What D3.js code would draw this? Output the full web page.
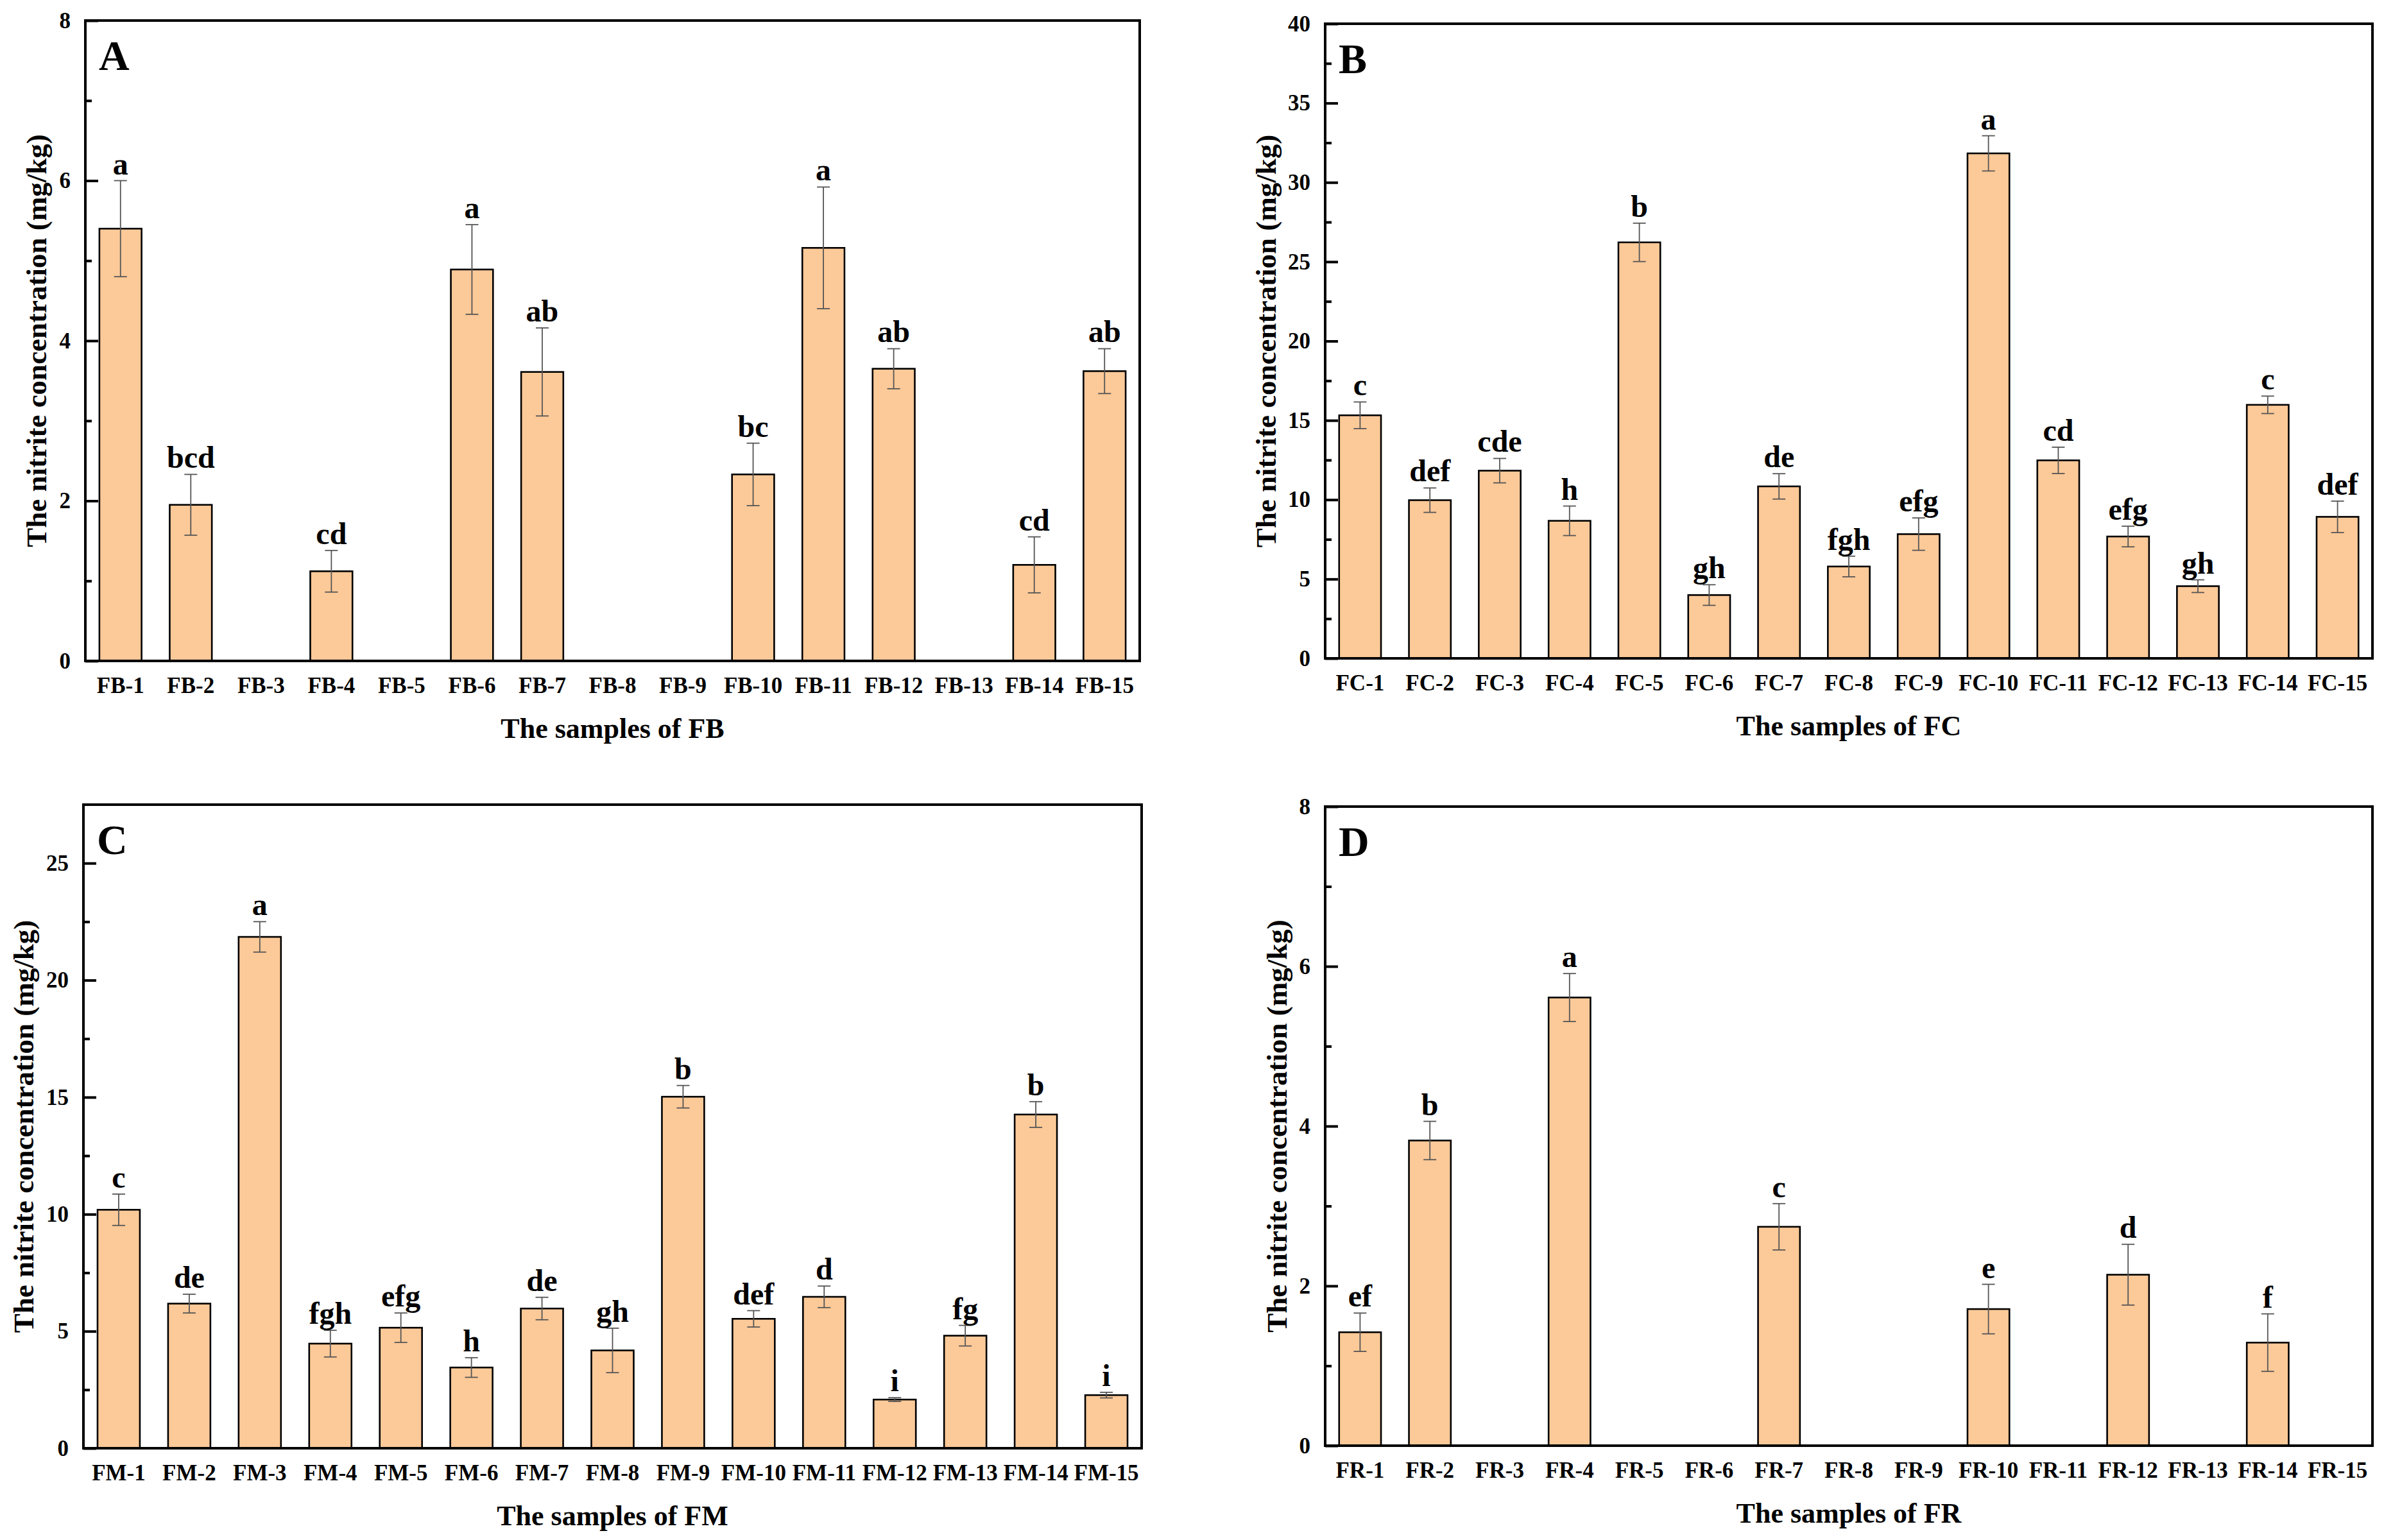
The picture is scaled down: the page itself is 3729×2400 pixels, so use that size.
<!DOCTYPE html>
<html>
<head>
<meta charset="utf-8">
<script src="https://cdn.jsdelivr.net/npm/d3@7"></script>
<style>
    body { margin: 0; background: #ffffff; }
    text { font-family: "Times New Roman", "Liberation Serif", serif; font-weight: bold; }
</style>
</head>
<body>
<div id="chart"></div>
<script>
// FB samples (panel A)
var fbSamples = ["FB-1", "FB-2", "FB-3", "FB-4", "FB-5", "FB-6", "FB-7", "FB-8", "FB-9", "FB-10", "FB-11", "FB-12", "FB-13", "FB-14", "FB-15"];
var fbValues = [5.40, 1.95, 0, 1.12, 0, 4.89, 3.61, 0, 0, 2.33, 5.16, 3.65, 0, 1.20, 3.62];
var fbErrors = [0.60, 0.38, 0, 0.26, 0, 0.56, 0.55, 0, 0, 0.39, 0.76, 0.25, 0, 0.35, 0.28];
var fbLetters = ["a", "bcd", "", "cd", "", "a", "ab", "", "", "bc", "a", "ab", "", "cd", "ab"];

// FC samples (panel B)
var fcSamples = ["FC-1", "FC-2", "FC-3", "FC-4", "FC-5", "FC-6", "FC-7", "FC-8", "FC-9", "FC-10", "FC-11", "FC-12", "FC-13", "FC-14", "FC-15"];
var fcValues = [15.32, 9.97, 11.83, 8.67, 26.22, 3.99, 10.84, 5.79, 7.83, 31.83, 12.48, 7.68, 4.55, 15.98, 8.92];
var fcErrors = [0.84, 0.77, 0.77, 0.93, 1.21, 0.65, 0.80, 0.65, 1.02, 1.11, 0.83, 0.65, 0.40, 0.55, 0.99];
var fcLetters = ["c", "def", "cde", "h", "b", "gh", "de", "fgh", "efg", "a", "cd", "efg", "gh", "c", "def"];

// FM samples (panel C)
var fmSamples = ["FM-1", "FM-2", "FM-3", "FM-4", "FM-5", "FM-6", "FM-7", "FM-8", "FM-9", "FM-10", "FM-11", "FM-12", "FM-13", "FM-14", "FM-15"];
var fmValues = [10.19, 6.18, 21.85, 4.47, 5.15, 3.45, 5.97, 4.18, 15.02, 5.53, 6.47, 2.08, 4.81, 14.26, 2.27];
var fmErrors = [0.67, 0.40, 0.65, 0.57, 0.63, 0.42, 0.48, 0.95, 0.48, 0.35, 0.46, 0.08, 0.44, 0.55, 0.12];
var fmLetters = ["c", "de", "a", "fgh", "efg", "h", "de", "gh", "b", "def", "d", "i", "fg", "b", "i"];

// FR samples (panel D)
var frSamples = ["FR-1", "FR-2", "FR-3", "FR-4", "FR-5", "FR-6", "FR-7", "FR-8", "FR-9", "FR-10", "FR-11", "FR-12", "FR-13", "FR-14", "FR-15"];
var frValues = [1.42, 3.82, 0, 5.61, 0, 0, 2.74, 0, 0, 1.71, 0, 2.14, 0, 1.29, 0];
var frErrors = [0.24, 0.24, 0, 0.30, 0, 0, 0.29, 0, 0, 0.31, 0, 0.38, 0, 0.36, 0];
var frLetters = ["ef", "b", "", "a", "", "", "c", "", "", "e", "", "d", "", "f", ""];

// axis ticks
var ticksA = [0, 2, 4, 6, 8];
var minorA = [1, 3, 5, 7];
var ticksB = [0, 5, 10, 15, 20, 25, 30, 35, 40];
var minorB = [2.5, 7.5, 12.5, 17.5, 22.5, 27.5, 32.5, 37.5];
var ticksC = [0, 5, 10, 15, 20, 25];
var minorC = [2.5, 7.5, 12.5, 17.5, 22.5];

var yTitle = "The nitrite concentration (mg/kg)";
var barFill = "#FCC998";

var svg = d3.select("#chart")
    .append("svg")
        .attr("width", 3729)
        .attr("height", 2400)
        .attr("xmlns", "http://www.w3.org/2000/svg")

svg.append("rect")
    .attr("width", 3729)
    .attr("height", 2400)
    .attr("fill", "#ffffff")

function drawPanel(cfg) {
    var g = svg.append("g")
        .attr("transform", "translate(" + cfg.left + "," + cfg.top + ")")
    var w = cfg.right - cfg.left
    var h = cfg.bottom - cfg.top

    var x = d3.scaleBand()
        .domain(cfg.samples)
        .range([0, w])
        .paddingInner(0.4)
        .paddingOuter(0.2)

    var y = d3.scaleLinear()
        .domain(cfg.domain)
        .range([h, 0])

    var rows = cfg.samples.map(function(s, i) {
        return { name: s, value: cfg.values[i], err: cfg.errors[i], letter: cfg.letters[i] }
    })
    var filled = rows.filter(function(d) { return d.value > 0 })

    // bars
    g.selectAll("rect.bar")
        .data(filled)
        .enter()
        .append("rect")
            .classed("bar", true)
            .attr("x", function(d) { return x(d.name) })
            .attr("width", x.bandwidth())
            .attr("y", function(d) { return y(d.value) })
            .attr("height", function(d) { return y(0) - y(d.value) })
            .attr("fill", barFill)
            .attr("stroke", "#000")
            .attr("stroke-width", 2.6)

    // error bars
    var eb = g.selectAll("g.err")
        .data(filled)
        .enter()
        .append("g")
            .classed("err", true)
            .attr("stroke", "#555")
            .attr("stroke-width", 1.8)
    eb.append("line")
        .attr("x1", function(d) { return x(d.name) + x.bandwidth() / 2 })
        .attr("x2", function(d) { return x(d.name) + x.bandwidth() / 2 })
        .attr("y1", function(d) { return y(d.value - d.err) })
        .attr("y2", function(d) { return y(d.value + d.err) })
    ;[-1, 1].forEach(function(s) {
        eb.append("line")
            .attr("x1", function(d) { return x(d.name) + x.bandwidth() / 2 - 10 })
            .attr("x2", function(d) { return x(d.name) + x.bandwidth() / 2 + 10 })
            .attr("y1", function(d) { return y(d.value + s * d.err) })
            .attr("y2", function(d) { return y(d.value + s * d.err) })
    })

    // significance letters
    g.selectAll("text.sig")
        .data(filled)
        .enter()
        .append("text")
            .classed("sig", true)
            .attr("x", function(d) { return x(d.name) + x.bandwidth() / 2 })
            .attr("y", function(d) { return y(d.value + d.err) - 10 })
            .attr("text-anchor", "middle")
            .attr("font-size", 48)
            .text(function(d) { return d.letter })

    // y axis, ticks inward
    var yAxis = g.append("g")
        .call(d3.axisLeft(y).tickValues(cfg.ticks).tickSize(-20).tickPadding(23).tickFormat(d3.format("d")))
    yAxis.select(".domain").remove()
    yAxis.selectAll("line").attr("stroke-width", 4)
    yAxis.selectAll("text")
        .attr("font-size", 35)
        .attr("font-family", null)

    var yMinor = g.append("g")
        .call(d3.axisLeft(y).tickValues(cfg.minor).tickSize(-10).tickFormat(""))
    yMinor.select(".domain").remove()
    yMinor.selectAll("line").attr("stroke-width", 4)

    // x axis labels
    var xAxis = g.append("g")
        .attr("transform", "translate(0," + h + ")")
        .call(d3.axisBottom(x).tickSize(0).tickPadding(25))
    xAxis.select(".domain").remove()
    xAxis.selectAll("text")
        .attr("font-size", 35)
        .attr("font-family", null)

    // frame
    g.append("rect")
        .attr("width", w)
        .attr("height", h)
        .attr("fill", "none")
        .attr("stroke", "#000")
        .attr("stroke-width", 4)

    // titles
    g.append("text")
        .attr("x", w / 2)
        .attr("y", h + 120)
        .attr("text-anchor", "middle")
        .attr("font-size", 44)
        .text(cfg.xTitle)

    g.append("text")
        .attr("transform", "translate(" + (-cfg.titleGap) + "," + (h / 2) + ") rotate(-90)")
        .attr("text-anchor", "middle")
        .attr("font-size", 45)
        .text(yTitle)

    g.append("text")
        .attr("x", 21)
        .attr("y", 77)
        .attr("font-size", 66)
        .text(cfg.label)
}

drawPanel({ label: "A", samples: fbSamples, values: fbValues, errors: fbErrors, letters: fbLetters,
    domain: [0, 8], ticks: ticksA, minor: minorA, xTitle: "The samples of FB",
    left: 133, right: 1776, top: 32, bottom: 1030, titleGap: 61 })

drawPanel({ label: "B", samples: fcSamples, values: fcValues, errors: fcErrors, letters: fcLetters,
    domain: [0, 40], ticks: ticksB, minor: minorB, xTitle: "The samples of FC",
    left: 2065, right: 3697, top: 37, bottom: 1026, titleGap: 77 })

drawPanel({ label: "C", samples: fmSamples, values: fmValues, errors: fmErrors, letters: fmLetters,
    domain: [0, 27.5], ticks: ticksC, minor: minorC, xTitle: "The samples of FM",
    left: 130, right: 1779, top: 1254, bottom: 2257, titleGap: 78 })

drawPanel({ label: "D", samples: frSamples, values: frValues, errors: frErrors, letters: frLetters,
    domain: [0, 8], ticks: ticksA, minor: minorA, xTitle: "The samples of FR",
    left: 2065, right: 3697, top: 1257, bottom: 2253, titleGap: 60 })
</script>
</body>
</html>
